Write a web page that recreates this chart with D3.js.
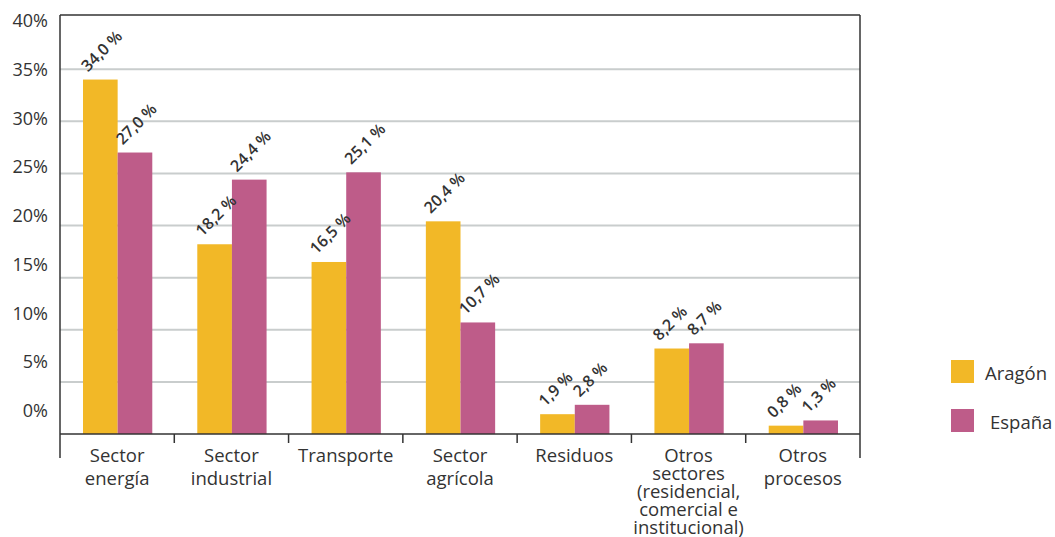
<!DOCTYPE html>
<html>
<head>
<meta charset="utf-8">
<script src="https://cdn.jsdelivr.net/npm/d3@7"></script>
<style>
  body { margin: 0; background: #fff; }
  svg { font-family: "Open Sans", "DejaVu Sans", sans-serif; }
</style>
</head>
<body>
<script>
const categories = ["Sector energía", "Sector industrial", "Transporte", "Sector agrícola", "Residuos",
    "Otros sectores (residencial, comercial e institucional)", "Otros procesos"];
const categoryLines = [["Sector", "energía"], ["Sector", "industrial"], ["Transporte"], ["Sector", "agrícola"],
    ["Residuos"], ["Otros", "sectores", "(residencial,", "comercial e", "institucional)"], ["Otros", "procesos"]];
const series = ["Aragón", "España"];
const aragon = [34.0, 18.2, 16.5, 20.4, 1.9, 8.2, 0.8];
const espana = [27.0, 24.4, 25.1, 10.7, 2.8, 8.7, 1.3];
const yTicks = [0, 5, 10, 15, 20, 25, 30, 35, 40];
const colors = ["#f2b827", "#be5c89"];

const width = 1055, height = 537;
const margin = {top: 17, right: 195, bottom: 103, left: 60};
const plotW = width - margin.left - margin.right, plotH = height - margin.top - margin.bottom;

const svg = d3.select("body").append("svg").attr("width", width).attr("height", height);
const g = svg.append("g").attr("transform", "translate(" + margin.left + "," + margin.top + ")");

const x = d3.scaleBand().domain(categories).range([0, plotW]);
const x1 = d3.scaleBand().domain(series).range([23, x.bandwidth() - 22]);
const y = d3.scaleLinear().domain([0, 40]).range([plotH, 0]);
// the y labels in the original sit on their own spacing, slightly off the gridlines
const yLab = d3.scaleLinear().domain([0, 40]).range([plotH - 24, 3]);

// gridlines
g.append("g").selectAll("line").data(yTicks.slice(1, -1)).enter().append("line")
    .attr("x1", 0).attr("x2", plotW)
    .attr("y1", d => y(d)).attr("y2", d => y(d))
    .attr("stroke", "#c9cdcd").attr("stroke-width", 2);

// y labels
g.append("g").selectAll("text").data(yTicks).enter().append("text")
    .attr("x", -12).attr("y", d => yLab(d))
    .attr("text-anchor", "end").attr("dominant-baseline", "central")
    .style("font-size", "18px").attr("fill", "#333")
    .text(d => d + "%");

// bars
const data = categories.map((c, i) => ({cat: c, vals: [aragon[i], espana[i]]}));
const groups = g.append("g").selectAll("g").data(data).enter().append("g")
    .attr("transform", d => "translate(" + x(d.cat) + ",0)");
groups.selectAll("rect").data(d => d.vals.map((v, j) => ({s: series[j], v: v, j: j}))).enter().append("rect")
    .attr("x", d => x1(d.s)).attr("width", x1.bandwidth())
    .attr("y", d => y(d.v)).attr("height", d => plotH - y(d.v))
    .attr("fill", d => colors[d.j]);

// value labels
groups.selectAll("text").data(d => d.vals.map((v, j) => ({s: series[j], v: v, j: j}))).enter().append("text")
    .attr("transform", d => "translate(" + (x1(d.s) + 5) + "," + (y(d.v) - 7) + ") rotate(-45)")
    .style("font-size", "16px").style("font-weight", 600).attr("fill", "#333")
    .text(d => d3.format(".1f")(d.v).replace(".", ",") + " %");

// frame
g.append("line").attr("x1", 0).attr("x2", plotW).attr("y1", -2).attr("y2", -2).attr("stroke", "#333").attr("stroke-width", 1.5);
g.append("line").attr("x1", 0).attr("x2", 0).attr("y1", -2).attr("y2", plotH + 24).attr("stroke", "#333").attr("stroke-width", 1.5);
g.append("line").attr("x1", plotW).attr("x2", plotW).attr("y1", -2).attr("y2", plotH + 24).attr("stroke", "#333").attr("stroke-width", 1.5);
g.append("line").attr("x1", 0).attr("x2", plotW).attr("y1", plotH).attr("y2", plotH).attr("stroke", "#333").attr("stroke-width", 1.5);

// inner category ticks
g.append("g").selectAll("line").data(categories.slice(1)).enter().append("line")
    .attr("x1", d => x(d)).attr("x2", d => x(d))
    .attr("y1", plotH).attr("y2", plotH + 9)
    .attr("stroke", "#333").attr("stroke-width", 1.5);

// category labels
const catText = g.append("g").selectAll("text").data(categories).enter().append("text")
    .attr("text-anchor", "middle")
    .style("font-size", "18.5px").attr("fill", "#333");
catText.each(function (d, i) {
    const lh = categoryLines[i].length > 2 ? 18 : 23;
    d3.select(this).selectAll("tspan").data(categoryLines[i]).enter().append("tspan")
        .attr("x", x(d) + x.bandwidth() / 2)
        .attr("y", (t, k) => plotH + 28 + k * lh)
        .text(t => t);
});

// legend
const legend = svg.append("g").selectAll("g").data(series).enter().append("g")
    .attr("transform", (d, i) => "translate(951," + (360 + i * 49) + ")");
legend.append("rect").attr("width", 23).attr("height", 23).attr("fill", (d, i) => colors[i]);
legend.append("text").attr("x", (d, i) => 34 + i * 5).attr("y", 12).attr("dominant-baseline", "central")
    .style("font-size", "18.5px").attr("fill", "#333").text(d => d);
</script>
</body>
</html>
